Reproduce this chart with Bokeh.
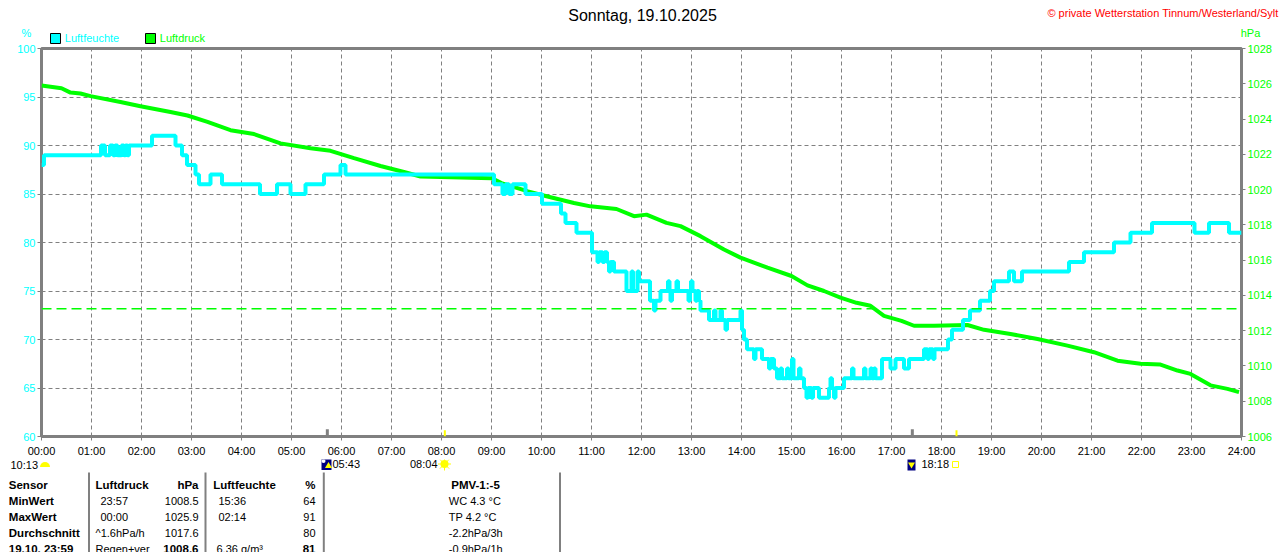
import numpy as np
from bokeh.plotting import figure
from bokeh.layouts import column
from bokeh.models import Range1d, LinearAxis, FixedTicker, SingleIntervalTicker, Span
from bokeh.core.properties import value
from bokeh.embed import file_html
from bokeh.resources import INLINE

FONT = "Liberation Sans"
CYAN = "#00FFFF"
GRUEN = "#00FF00"
GRAU = "#808080"
GELB = "#FFFF00"

TITEL = "Sonntag, 19.10.2025"
COPYRIGHT = "\u00a9 private Wetterstation Tinnum/Westerland/Sylt"

# Luftfeuchte (%) als Stufen: Uhrzeit (h) -> Wert ab dieser Zeit
feuchte_zeit = [0.00, 0.05, 1.19, 1.27, 1.37, 1.43, 1.47, 1.52, 1.60, 1.65, 1.68, 1.72, 1.75,
                2.21, 2.68, 2.81, 2.91, 3.08, 3.15, 3.38, 3.61, 4.37, 4.71, 4.98, 5.28, 5.65,
                5.98, 6.08, 9.05, 9.22, 9.28, 9.35, 9.42, 9.68, 10.01, 10.39, 10.48, 10.70,
                11.01, 11.12, 11.15, 11.22, 11.26, 11.31, 11.35, 11.38, 11.45, 11.70, 11.80,
                11.83, 11.92, 11.95, 12.17, 12.25, 12.28, 12.38, 12.53, 12.56, 12.58, 12.61,
                12.70, 12.73, 12.94, 12.97, 12.99, 13.02, 13.08, 13.11, 13.15, 13.18, 13.35,
                13.45, 13.48, 13.58, 13.61, 13.68, 13.71, 13.98, 14.01, 14.05, 14.11, 14.25,
                14.28, 14.41, 14.55, 14.58, 14.65, 14.71, 14.78, 14.81, 14.91, 14.94, 15.01,
                15.04, 15.15, 15.18, 15.25, 15.30, 15.33, 15.40, 15.43, 15.55, 15.75, 15.78,
                15.81, 15.85, 15.88, 16.05, 16.21, 16.24, 16.45, 16.48, 16.58, 16.61, 16.65,
                16.68, 16.81, 16.98, 17.08, 17.25, 17.35, 17.65, 17.72, 17.75, 17.83, 17.86,
                18.13, 18.21, 18.43, 18.57, 18.77, 18.97, 19.05, 19.35, 19.45, 19.61, 20.55,
                20.85, 21.45, 21.78, 22.21, 23.06, 23.35, 23.75, 24.00]
feuchte_wert = [88, 89, 90, 89, 90, 89, 90, 89, 90, 89, 90, 89, 90,
                91, 90, 89, 88, 87, 86, 87, 86, 85, 86, 85, 86, 87,
                88, 87, 86, 85, 86, 85, 86, 85, 84, 83, 82, 81,
                79, 78, 79, 78, 79, 78, 77, 78, 77, 75, 77,
                75, 77, 76, 74, 73, 74, 75, 76, 75, 74, 75,
                76, 75, 74, 75, 76, 75, 74, 75, 74, 73, 72,
                73, 72, 73, 72, 71, 72, 73, 71, 70, 69, 68,
                69, 68, 67, 68, 67, 66, 67, 66, 67, 66, 68,
                66, 67, 66, 65, 64, 65, 64, 65, 64, 65, 66,
                65, 64, 65, 66, 67, 66, 67, 66, 67, 66, 67,
                66, 68, 67, 68, 67, 68, 69, 68, 69, 68, 69,
                70, 71, 72, 73, 74, 75, 76, 77, 76, 77, 78,
                79, 80, 81, 82, 81, 82, 81, 81]

# Luftdruck (hPa)
druck_zeit = [0.00, 0.40, 0.58, 0.78, 0.98, 1.58, 1.98, 2.58, 2.92, 3.32, 3.78, 4.25, 4.78,
              5.38, 5.78, 6.25, 6.78, 7.25, 7.58, 7.98, 9.00, 9.20, 9.73, 10.10, 10.65, 10.98,
              11.50, 11.85, 12.10, 12.50, 12.78, 13.18, 13.65, 13.98, 14.52, 15.00, 15.32,
              15.65, 15.98, 16.30, 16.58, 16.85, 17.20, 17.45, 17.85, 18.52, 18.85, 19.38,
              19.92, 20.52, 21.05, 21.52, 21.98, 22.38, 22.72, 22.98, 23.38, 23.72, 23.95]
druck_wert = [1025.90, 1025.75, 1025.50, 1025.45, 1025.30, 1024.97, 1024.73, 1024.40, 1024.20,
              1023.84, 1023.37, 1023.15, 1022.62, 1022.34, 1022.20, 1021.78, 1021.34, 1021.00,
              1020.74, 1020.72, 1020.65, 1020.37, 1019.90, 1019.62, 1019.24, 1019.05, 1018.90,
              1018.49, 1018.58, 1018.11, 1017.93, 1017.36, 1016.60, 1016.14, 1015.57, 1015.10,
              1014.57, 1014.25, 1013.88, 1013.58, 1013.41, 1012.84, 1012.56, 1012.28, 1012.28,
              1012.32, 1012.05, 1011.81, 1011.53, 1011.15, 1010.78, 1010.30, 1010.12, 1010.08,
              1009.74, 1009.55, 1008.90, 1008.70, 1008.52]

NORMALDRUCK = 1013.25
stunden = list(range(25))
stunden_text = ["%02d:00" % h for h in stunden]

# Sonne / Mond
mond_zeiten = [5 + 43 / 60, 17 + 25 / 60]
sonne_zeiten = [8 + 4 / 60, 18 + 18 / 60]

# Tabelle unten
zeilen_titel = ["Sensor", "MinWert", "MaxWert", "Durchschnitt", "19.10. 23:59"]
druck_zeit_txt = ["Luftdruck", "23:57", "00:00", "^1.6hPa/h", "Regen+ver"]
druck_txt = ["hPa", "1008.5", "1025.9", "1017.6", "1008.6"]
feuchte_zeit_txt = ["Luftfeuchte", "15:36", "02:14", "", "6.36 g/m\u00b3"]
feuchte_txt = ["%", "64", "91", "80", "81"]
pmv_txt = ["PMV-1:-5", "WC 4.3 \u00b0C", "TP 4.2 \u00b0C", "-2.2hPa/3h", "-0.9hPa/1h"]

W = 1280
KOPF_H = 44
FUSS_Y0 = 459          # Seitenpixel, an dem die Fusszeile beginnt
FUSS_H = 552 - FUSS_Y0


def txt(f, x, y, s, align="left", bold=False, color="black", size="11px"):
    f.text(x=[x], y=[y], text=[s], text_font=value(FONT), text_font_size=size,
           text_align=align, text_baseline="middle", text_color=color,
           text_font_style="bold" if bold else "normal")


def pixel_fig(h):
    f = figure(width=W, height=h, x_range=Range1d(0, W), y_range=Range1d(h, 0),
               output_backend="svg", toolbar_location=None, tools="", title=None,
               x_axis_location=None, y_axis_location=None, min_border=0)
    f.frame_align = False
    f.grid.visible = False
    f.outline_line_color = None
    return f


# Kopfzeile
kopf = pixel_fig(KOPF_H)
txt(kopf, 642, 15, TITEL, align="center", size="16px")
txt(kopf, 1278, 12.5, COPYRIGHT, align="right", color="red", size="11px")
txt(kopf, 26, 32, "%", align="center", color=CYAN)
txt(kopf, 1250, 32.5, "hPa", align="center", color=GRUEN)
kopf.scatter(x=[55, 150], y=[38, 38], marker="square", size=10,
             fill_color=[CYAN, GRUEN], line_color="black", line_width=1)
txt(kopf, 64.3, 37.5, "Luftfeuchte", color=CYAN)
txt(kopf, 159.3, 37.5, "Luftdruck", color=GRUEN)

# Diagramm
p = figure(width=W, height=FUSS_Y0 - KOPF_H, x_range=Range1d(0, 24), y_range=Range1d(60, 100),
           output_backend="svg", toolbar_location=None, tools="", title=None,
           min_border_left=41, min_border_right=39, min_border_top=48 - KOPF_H,
           min_border_bottom=FUSS_Y0 - 438)
p.frame_align = False
p.extra_y_ranges = {"hpa": Range1d(1006, 1028)}
p.add_layout(LinearAxis(y_range_name="hpa"), "right")

p.xaxis.ticker = FixedTicker(ticks=stunden)
p.xaxis.major_label_overrides = {h: t for h, t in zip(stunden, stunden_text)}
p.yaxis[0].ticker = SingleIntervalTicker(interval=5)
p.yaxis[1].ticker = SingleIntervalTicker(interval=2)
p.yaxis[0].major_label_text_color = CYAN
p.yaxis[1].major_label_text_color = GRUEN
p.xaxis.major_label_text_color = "black"
for ax in p.xaxis + p.yaxis:
    ax.axis_line_color = None
    ax.major_tick_line_color = GRAU
    ax.major_tick_out = 4
    ax.major_tick_in = 0
    ax.minor_tick_line_color = None
    ax.major_label_text_font = FONT
    ax.major_label_text_font_size = "11px"
    ax.major_label_standoff = 2
p.xaxis.major_label_standoff = 4

p.xgrid.ticker = FixedTicker(ticks=stunden)
p.ygrid.ticker = SingleIntervalTicker(interval=5)
p.grid.grid_line_color = GRAU
p.grid.grid_line_dash = "4 3"
p.grid.grid_line_width = 1
p.outline_line_color = GRAU
p.outline_line_width = 3

p.add_layout(Span(location=NORMALDRUCK, dimension="width", y_range_name="hpa",
                  line_color=GRUEN, line_width=1.5, line_dash="10 5"))
p.line(druck_zeit, druck_wert, y_range_name="hpa", line_color=GRUEN, line_width=4)
p.step(feuchte_zeit, feuchte_wert, mode="after", line_color=CYAN, line_width=4)

p.segment(x0=mond_zeiten, y0=[60] * 2, x1=mond_zeiten, y1=[60.75] * 2, line_color=GRAU, line_width=3)
p.segment(x0=sonne_zeiten, y0=[60] * 2, x1=sonne_zeiten, y1=[60.65] * 2, line_color=GELB, line_width=2)

# Fusszeile mit Tabelle (Positionen in Seitenpixeln, verschoben um FUSS_Y0)
fuss = pixel_fig(FUSS_H)


def fy(page_y):
    return page_y - FUSS_Y0


txt(fuss, 10, fy(464), "10:13")
fuss.wedge(x=[44.5], y=[fy(466.5)], radius=5, start_angle=0, end_angle=np.pi, direction="anticlock",
           fill_color=GELB, line_color=None)
fuss.rect(x=[326, 911], y=[fy(464), fy(464)], width=[10, 8], height=[11, 12],
          fill_color="#000080", line_color=None)
fuss.scatter(x=[328], y=[fy(465.5)], marker="triangle", size=7, fill_color=GELB, line_color=None)
fuss.scatter(x=[911], y=[fy(464)], marker="inverted_triangle", size=7, fill_color=GELB, line_color=None)
fuss.scatter(x=[323], y=[fy(460.5)], marker="circle", size=4, fill_color="white", line_color=None)
txt(fuss, 332, fy(463.5), "05:43")
txt(fuss, 437, fy(463.5), "08:04", align="right")
fuss.scatter(x=[444], y=[fy(463.5)], marker="circle", size=8, fill_color=GELB, line_color=None)
fuss.scatter(x=[444], y=[fy(463.5)], marker="asterisk", size=13, line_color=GELB, line_width=1)
txt(fuss, 921, fy(463.5), "18:18")
fuss.scatter(x=[955], y=[fy(464)], marker="square", size=6, fill_color=None, line_color=GELB, line_width=1)

trenner = [88.5, 205, 323.3, 559.5]
fuss.segment(x0=trenner, y0=[fy(472)] * 4, x1=trenner, y1=[FUSS_H] * 4, line_color=GRAU, line_width=2)

zeilen_y = [484.3, 500.7, 516.7, 532.3, 548.3]
for i, yp in enumerate(zeilen_y):
    y = fy(yp)
    kopfz = i == 0
    letzte = i == len(zeilen_y) - 1
    gross = "11.5px"
    txt(fuss, 8.3, y, zeilen_titel[i], bold=True, size=gross)
    txt(fuss, 95 if (kopfz or i >= 3) else 100, y, druck_zeit_txt[i], bold=kopfz,
        size=gross if kopfz else "11px")
    txt(fuss, 198, y, druck_txt[i], align="right", bold=kopfz or letzte,
        size=gross if (kopfz or letzte) else "11px")
    txt(fuss, 212.7 if kopfz else (216 if letzte else 218), y, feuchte_zeit_txt[i], bold=kopfz,
        size=gross if kopfz else "11px")
    txt(fuss, 315, y, feuchte_txt[i], align="right", bold=kopfz or letzte,
        size=gross if (kopfz or letzte) else "11px")
    if kopfz:
        txt(fuss, 475, y, pmv_txt[i], align="center", bold=True, size=gross)
    else:
        txt(fuss, 448.3, y, pmv_txt[i])

layout = column(kopf, p, fuss, spacing=0)
open("out.html", "w").write(file_html(layout, INLINE))
